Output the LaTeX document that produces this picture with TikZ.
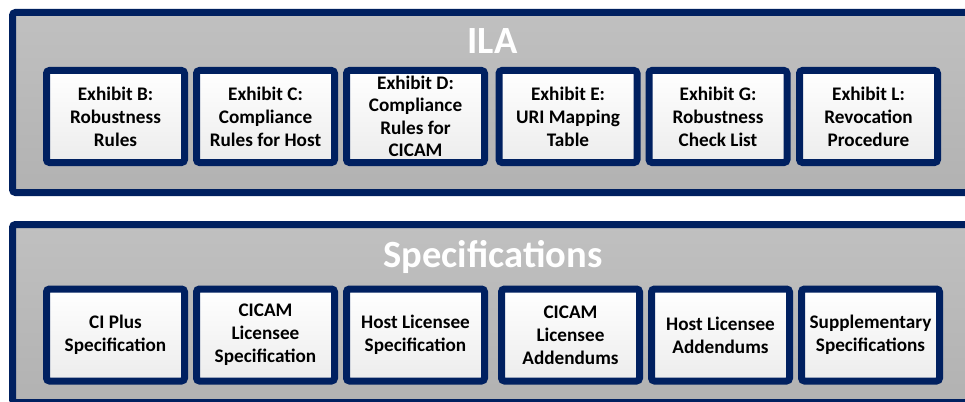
\documentclass[tikz,border=0pt]{standalone}
\usepackage{fontspec}
\setmainfont{Carlito}
\usetikzlibrary{shadows}
\definecolor{navy}{RGB}{0,32,96}
\definecolor{frametop}{RGB}{192,192,192}
\definecolor{framebot}{RGB}{178,178,178}
\definecolor{boxbot}{RGB}{236,236,236}
\begin{document}
\begin{tikzpicture}[x=1pt,y=-1pt,
  frame/.style={draw=navy, line width=7pt, rounded corners=3pt, top color=frametop, bottom color=framebot,
    drop shadow={opacity=0.15, shadow xshift=1.5pt, shadow yshift=-2pt}},
  itembox/.style={draw=navy, line width=7pt, rounded corners=3pt, top color=white, bottom color=boxbot,
    minimum width=138pt, minimum height=92pt, inner sep=0pt, align=center,
    font=\bfseries\fontsize{19.2}{23}\selectfont,
    drop shadow={opacity=0.18, shadow xshift=1.5pt, shadow yshift=-2pt}},
  title/.style={anchor=base, text=white, font=\bfseries\fontsize{38.5}{46}\selectfont}]
\useasboundingbox (0,0) rectangle (965,401);
\fill[white] (0,0) rectangle (965,401);
% frames
\draw[frame] (12.5,12.5) rectangle (980,192.5);
\draw[frame] (12.5,224.5) rectangle (980,402.5);
\node[title] (ila) at (492.5,54) {ILA};
\node[title] (spec) at (493,267) {Specifications};
% ILA exhibits
\node[itembox] (b) at (115.5,116.5) {Exhibit B:\\Robustness\\Rules};
\node[itembox] (c) at (265.5,116.5) {Exhibit C:\\Compliance\\Rules for Host};
\node[itembox, font=\bfseries\fontsize{19.2}{22.5}\selectfont] (d) at (415.5,116.5) {Exhibit D:\\Compliance\\Rules for\\CICAM};
\node[itembox] (e) at (568,116.5) {Exhibit E:\\URI Mapping\\Table};
\node[itembox] (g) at (718,116.5) {Exhibit G:\\Robustness\\Check List};
\node[itembox] (l) at (868.5,116.5) {Exhibit L:\\Revocation\\Procedure};
% Specifications
\node[itembox] (s1) at (115.5,335) {CI Plus\\Specification};
\node[itembox] (s2) at (265.5,335) {CICAM\\Licensee\\Specification};
\node[itembox] (s3) at (415.5,335) {Host Licensee\\Specification};
\node[itembox] (s4) at (570.5,335) {CICAM\\Licensee\\Addendums};
\node[itembox] (s5) at (720.5,335) {Host Licensee\\Addendums};
\node[itembox] (s6) at (870.5,335) {Supplementary\\Specifications};
\end{tikzpicture}
\end{document}
